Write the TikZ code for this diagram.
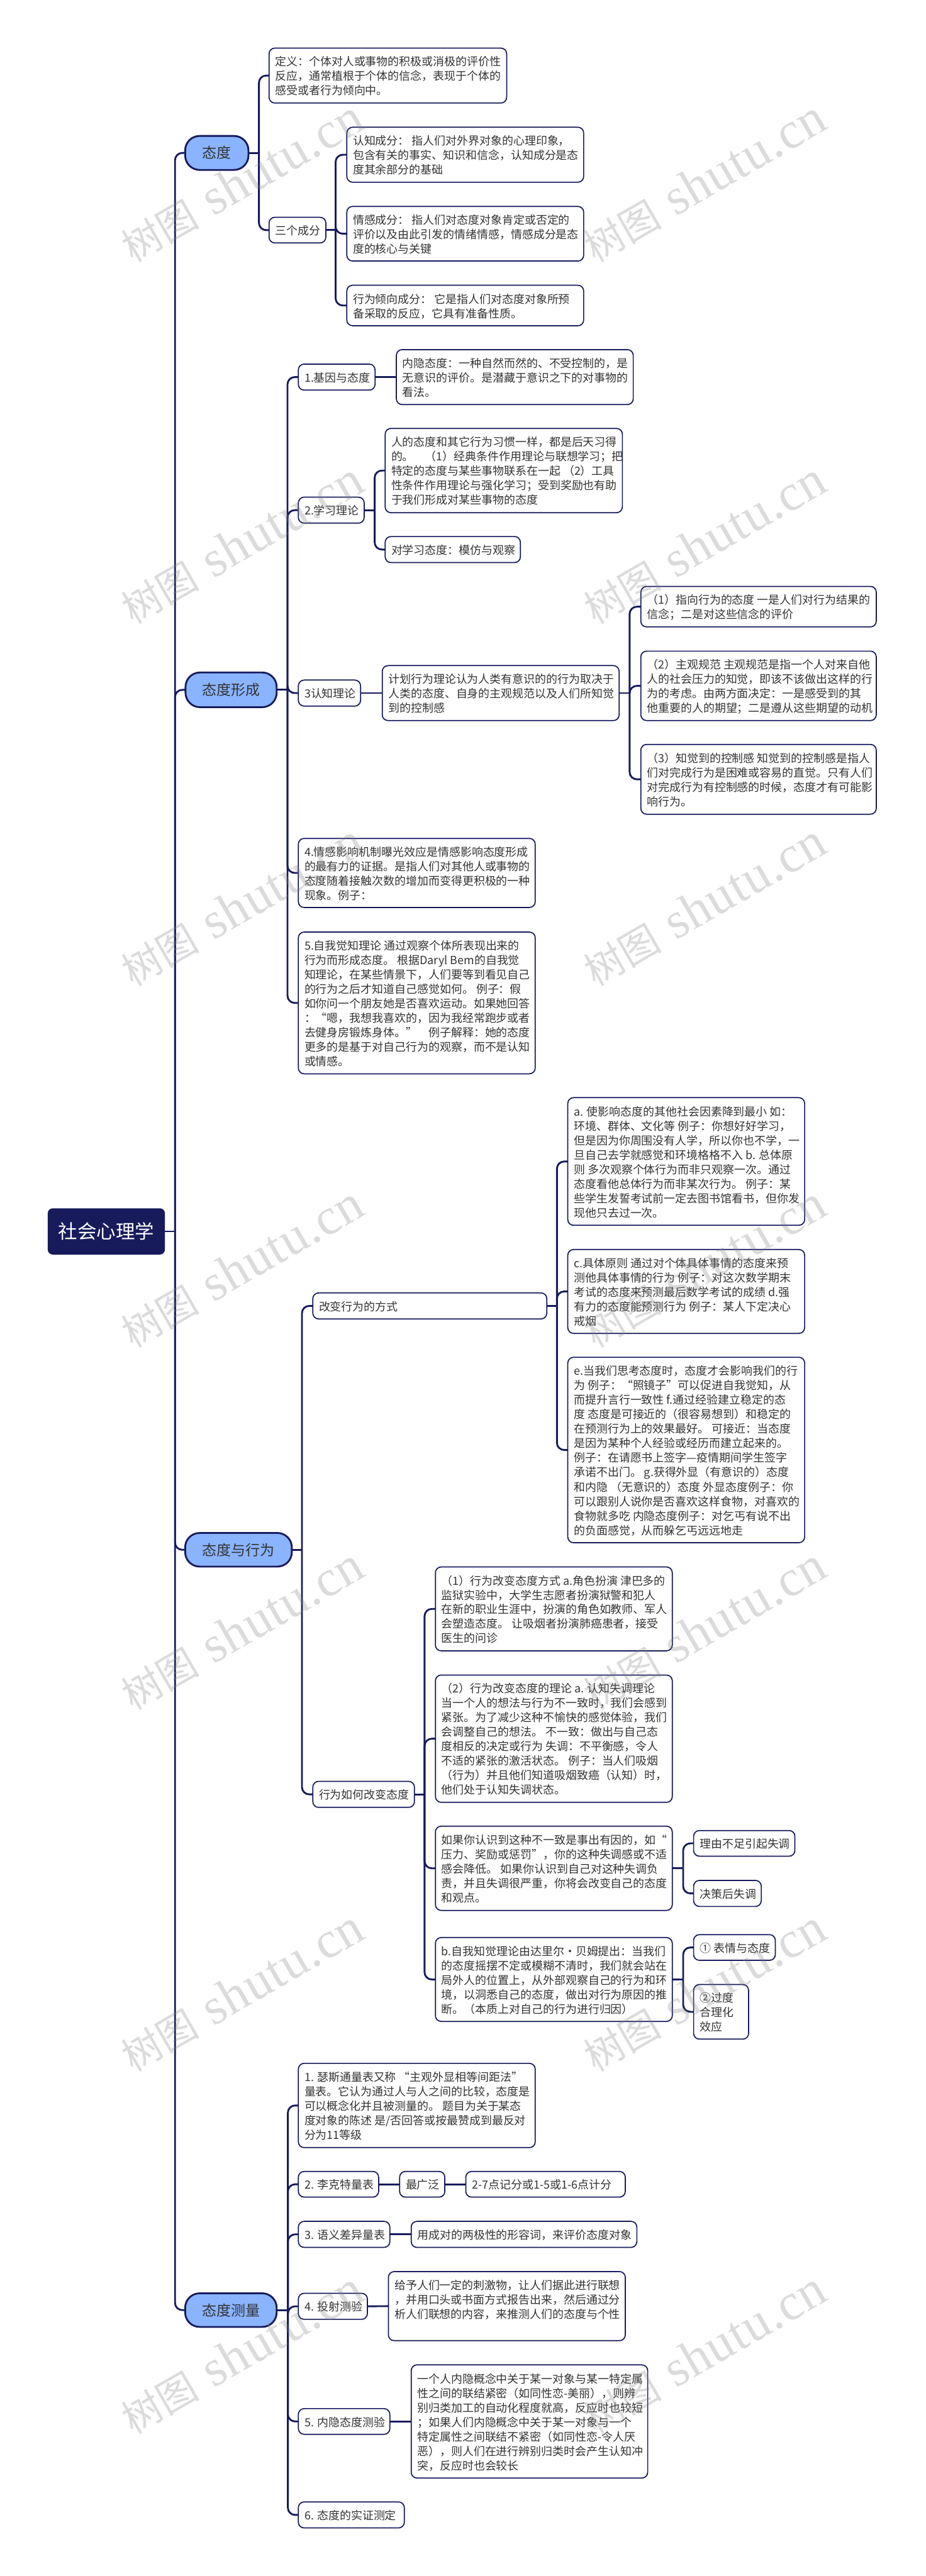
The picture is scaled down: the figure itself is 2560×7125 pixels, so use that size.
\documentclass[tikz,border=0pt]{standalone}
\usepackage{fontspec}
\setmainfont{Noto Sans CJK SC}
\newfontfamily\wmcjk{Noto Sans CJK SC}
\newfontfamily\wmlat[LetterSpace=1.5]{Liberation Serif}
\definecolor{navy}{HTML}{171B5C}
\definecolor{topicblue}{HTML}{8AB4FF}
\definecolor{inkc}{HTML}{333333}
\tikzset{
  leaf/.style={draw=navy,fill=white,line width=3pt,rounded corners=16pt,inner xsep=17pt,inner ysep=0pt,outer sep=0pt,text=inkc},
  topic/.style={draw=navy,fill=topicblue,line width=5pt,rounded corners=40pt,inner sep=0pt,outer sep=0pt,text=inkc,font=\fontsize{40}{48}\selectfont},
  rootbox/.style={fill=navy,rounded corners=14pt,inner sep=0pt,outer sep=0pt,text=white,font=\fontsize{53}{60}\selectfont},
  conn/.style={draw=navy,line width=5pt},
  wmark/.style={text=gray,text opacity=0.28,rotate=30,inner sep=0pt}
}
% box: name, x1, y1, x2, y2, lines
\newcommand\bx[6]{%
  \node[leaf,minimum width={#4-#2},minimum height={#5-#3}] (#1) at ({(#2+#4)/2},{(#3+#5)/2}) {%
    \fontsize{31.2}{40}\selectfont
    \setbox\strutbox\hbox{\vrule height 33.5pt depth 6.5pt width 0pt}%
    \makebox[\dimexpr#4pt-#2pt-34pt\relax][l]{\begin{tabular}{@{}l@{}}#6\end{tabular}}};
}
\newcommand\tp[6]{%
  \node[topic,minimum width={#4-#2},minimum height={#5-#3}] (#1) at ({(#2+#4)/2},{(#3+#5)/2}) {#6};
}
\newcommand\branch[3]{%
  \coordinate (sp) at (#2,0);
  \draw[conn] (#1.east) -- (sp |- #1.east);
  \foreach \ch in {#3} {\draw[conn,rounded corners=20pt] (sp |- #1.east) -- (sp |- \ch.west) -- (\ch.west);}
}
\newcommand\direct[2]{\draw[conn] (#1.east) -- (#2.west);}
\newcommand\wmtext{{\fontsize{108}{130}\selectfont\wmcjk 树图}\hspace{40pt}{\fontsize{142}{130}\selectfont\wmlat shutu.cn}}
\begin{document}
\begin{tikzpicture}[x=1pt,y=-1pt]
\useasboundingbox (0,0) rectangle (2560,7125);
\fill[white] (0,0) rectangle (2560,7125);

% root and topics
\node[rootbox,minimum width=324,minimum height=128] (root) at (294,3406) {社会心理学};
\tp{t1}{512}{376}{687}{470}{态度}
\tp{t2}{513}{1860}{765}{1956}{态度形成}
\tp{t3}{512}{4240}{807}{4333}{态度与行为}
\tp{t4}{512}{6343}{765}{6436}{态度测量}

% 态度
\bx{def}{744}{133}{1401}{285}{定义：个体对人或事物的积极或消极的评价性\\反应，通常植根于个体的信念，表现于个体的\\感受或者行为倾向中。}
\bx{three}{744}{601}{901}{672}{三个成分}
\bx{cog}{959}{352}{1614}{504}{认知成分： 指人们对外界对象的心理印象，\\包含有关的事实、知识和信念，认知成分是态\\度其余部分的基础}
\bx{aff}{959}{571}{1614}{722}{情感成分： 指人们对态度对象肯定或否定的\\评价以及由此引发的情绪情感，情感成分是态\\度的核心与关键}
\bx{beh}{959}{789}{1614}{901}{行为倾向成分： 它是指人们对态度对象所预\\备采取的反应，它具有准备性质。}

% 态度形成
\bx{f1}{825}{1007}{1037}{1079}{1.基因与态度}
\bx{f1a}{1096}{967}{1751}{1119}{内隐态度：一种自然而然的、不受控制的，是\\无意识的评价。是潜藏于意识之下的对事物的\\看法。}
\bx{f2}{825}{1375}{1007}{1447}{2.学习理论}
\bx{f2a}{1065}{1185}{1721}{1418}{人的态度和其它行为习惯一样，都是后天习得\\的。　（1）经典条件作用理论与联想学习；把\\特定的态度与某些事物联系在一起 （2）工具\\性条件作用理论与强化学习；受到奖励也有助\\于我们形成对某些事物的态度}
\bx{f2b}{1065}{1484}{1439}{1556}{对学习态度：模仿与观察}
\bx{f3}{825}{1881}{997}{1953}{3认知理论}
\bx{f3a}{1057}{1841}{1712}{1993}{计划行为理论认为人类有意识的的行为取决于\\人类的态度、自身的主观规范以及人们所知觉\\到的控制感}
\bx{f31}{1772}{1622}{2423}{1734}{（1）指向行为的态度 一是人们对行为结果的\\信念；二是对这些信念的评价}
\bx{f32}{1772}{1801}{2423}{1993}{（2）主观规范 主观规范是指一个人对来自他\\人的社会压力的知觉，即该不该做出这样的行\\为的考虑。由两方面决定：一是感受到的其\\他重要的人的期望；二是遵从这些期望的动机}
\bx{f33}{1772}{2059}{2423}{2252}{（3）知觉到的控制感 知觉到的控制感是指人\\们对完成行为是困难或容易的直觉。只有人们\\对完成行为有控制感的时候，态度才有可能影\\响行为。}
\bx{f4}{825}{2319}{1480}{2510}{4.情感影响机制曝光效应是情感影响态度形成\\的最有力的证据。是指人们对其他人或事物的\\态度随着接触次数的增加而变得更积极的一种\\现象。例子：}
\bx{f5}{825}{2578}{1480}{2970}{5.自我觉知理论 通过观察个体所表现出来的\\行为而形成态度。 根据Daryl Bem的自我觉\\知理论，在某些情景下，人们要等到看见自己\\的行为之后才知道自己感觉如何。 例子：假\\如你问一个朋友她是否喜欢运动。如果她回答\\：“嗯，我想我喜欢的，因为我经常跑步或者\\去健身房锻炼身体。”　例子解释：她的态度\\更多的是基于对自己行为的观察，而不是认知\\或情感。}

% 态度与行为
\bx{b1}{865}{3576}{1512}{3648}{改变行为的方式}
\bx{ba}{1570}{3036}{2225}{3389}{a. 使影响态度的其他社会因素降到最小 如：\\环境、群体、文化等 例子：你想好好学习，\\但是因为你周围没有人学，所以你也不学，一\\旦自己去学就感觉和环境格格不入 b. 总体原\\则 多次观察个体行为而非只观察一次。通过\\态度看他总体行为而非某次行为。 例子：某\\些学生发誓考试前一定去图书馆看书，但你发\\现他只去过一次。}
\bx{bc}{1570}{3456}{2225}{3688}{c.具体原则 通过对个体具体事情的态度来预\\测他具体事情的行为 例子：对这次数学期末\\考试的态度来预测最后数学考试的成绩  d.强\\有力的态度能预测行为 例子：某人下定决心\\戒烟}
\bx{be}{1570}{3754}{2225}{4267}{e.当我们思考态度时，态度才会影响我们的行\\为 例子：“照镜子”可以促进自我觉知，从\\而提升言行一致性  f.通过经验建立稳定的态\\度 态度是可接近的（很容易想到）和稳定的\\在预测行为上的效果最好。 可接近：当态度\\是因为某种个人经验或经历而建立起来的。\\例子：在请愿书上签字—疫情期间学生签字\\承诺不出门。  g.获得外显（有意识的）态度\\和内隐 （无意识的）态度 外显态度例子：你\\可以跟别人说你是否喜欢这样食物，对喜欢的\\食物就多吃 内隐态度例子：对乞丐有说不出\\的负面感觉，从而躲乞丐远远地走}
\bx{b2}{865}{4927}{1146}{4999}{行为如何改变态度}
\bx{c1}{1204}{4334}{1859}{4566}{（1）行为改变态度方式 a.角色扮演 津巴多的\\监狱实验中，大学生志愿者扮演狱警和犯人\\在新的职业生涯中，扮演的角色如教师、军人\\会塑造态度。 让吸烟者扮演肺癌患者，接受\\医生的问诊}
\bx{c2}{1204}{4633}{1859}{4985}{（2）行为改变态度的理论 a. 认知失调理论\\当一个人的想法与行为不一致时，我们会感到\\紧张。为了减少这种不愉快的感觉体验，我们\\会调整自己的想法。 不一致：做出与自己态\\度相反的决定或行为 失调：不平衡感，令人\\不适的紧张的激活状态。 例子：当人们吸烟\\（行为）并且他们知道吸烟致癌（认知）时，\\他们处于认知失调状态。}
\bx{c3}{1204}{5051}{1859}{5284}{如果你认识到这种不一致是事出有因的，如“\\压力、奖励或惩罚”，你的这种失调感或不适\\感会降低。 如果你认识到自己对这种失调负\\责，并且失调很严重，你将会改变自己的态度\\和观点。}
\bx{c4}{1204}{5359}{1859}{5591}{b.自我知觉理论由达里尔•贝姆提出：当我们\\的态度摇摆不定或模糊不清时，我们就会站在\\局外人的位置上，从外部观察自己的行为和环\\境，以洞悉自己的态度，做出对行为原因的推\\断。（本质上对自己的行为进行归因）}
\bx{d1}{1918}{5063}{2198}{5134}{理由不足引起失调}
\bx{d2}{1918}{5201}{2105}{5273}{决策后失调}
\bx{d3}{1918}{5351}{2144}{5422}{① 表情与态度}
\bx{d4}{1918}{5489}{2070}{5640}{②过度\\合理化\\效应}

% 态度测量
\bx{m1}{825}{5707}{1480}{5940}{1. 瑟斯通量表又称 “主观外显相等间距法”\\量表。它认为通过人与人之间的比较，态度是\\可以概念化并且被测量的。 题目为关于某态\\度对象的陈述 是/否回答或按最赞成到最反对\\分为11等级}
\bx{m2}{825}{6006}{1047}{6077}{2. 李克特量表}
\bx{m2a}{1105}{6006}{1230}{6077}{最广泛}
\bx{m2b}{1288}{6006}{1729}{6077}{2-7点记分或1-5或1-6点计分}
\bx{m3}{825}{6144}{1078}{6216}{3. 语义差异量表}
\bx{m3a}{1137}{6144}{1761}{6216}{用成对的两极性的形容词，来评价态度对象}
\bx{m4}{825}{6343}{1016}{6415}{4. 投射测验}
\bx{m4a}{1074}{6283}{1729}{6474}{给予人们一定的刺激物，让人们据此进行联想\\，并用口头或书面方式报告出来，然后通过分\\析人们联想的内容，来推测人们的态度与个性\\~}
\bx{m5}{825}{6662}{1078}{6733}{5. 内隐态度测验}
\bx{m5a}{1137}{6541}{1791}{6854}{一个人内隐概念中关于某一对象与某一特定属\\性之间的联结紧密（如同性恋-美丽），则辨\\别归类加工的自动化程度就高，反应时也较短\\；如果人们内隐概念中关于某一对象与一个\\特定属性之间联结不紧密（如同性恋-令人厌\\恶），则人们在进行辨别归类时会产生认知冲\\突，反应时也会较长}
\bx{m6}{825}{6920}{1118}{6992}{6. 态度的实证测定}

% connectors
\branch{root}{484}{t1,t2,t3,t4}
\branch{t1}{716}{def,three}
\branch{three}{928}{cog,aff,beh}
\branch{t2}{795}{f1,f2,f3,f4,f5}
\direct{f1}{f1a}
\branch{f2}{1036}{f2a,f2b}
\direct{f3}{f3a}
\branch{f3a}{1741}{f31,f32,f33}
\branch{t3}{835}{b1,b2}
\branch{b1}{1540}{ba,bc,be}
\branch{b2}{1174}{c1,c2,c3,c4}
\branch{c3}{1889}{d1,d2}
\branch{c4}{1889}{d3,d4}
\branch{t4}{796}{m1,m2,m3,m4,m5,m6}
\direct{m2}{m2a}
\direct{m2a}{m2b}
\direct{m3}{m3a}
\direct{m4}{m4a}
\direct{m5}{m5a}

% watermarks
\foreach \k in {0,...,6} {
  \node[wmark] (wl\k) at (670,{502+1001*\k}) {\wmtext};
  \node[wmark] (wr\k) at (1948,{502+1001*\k}) {\wmtext};
}
\end{tikzpicture}
\end{document}
